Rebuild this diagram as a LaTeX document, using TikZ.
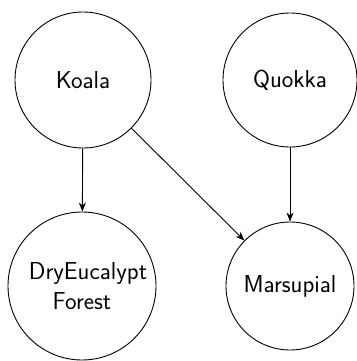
\documentclass[tikz,border=0pt]{standalone}
\usetikzlibrary{arrows.meta}
\begin{document}
\begin{tikzpicture}[x=1pt,y=-1pt,
  animal/.style={draw,circle,line width=0.9pt,inner sep=0pt,align=center,font=\sffamily\fontsize{24.5}{30}\selectfont},
  arr/.style={-{Stealth[length=9pt,width=7pt,inset=3pt]},line width=0.9pt}]
\useasboundingbox (0,0) rectangle (356,361);
\node[animal,minimum size=136pt] (koala) at (83,80) {Koala};
\node[animal,minimum size=134pt] (quokka) at (290,80) {Quokka};
\node[animal,minimum size=148pt] (dry) at (82,286) {\hspace*{12pt}DryEucalypt\\Forest};
\node[animal,minimum size=128pt] (mars) at (290,286) {Marsupial};
\draw[arr] (koala) -- (dry);
\draw[arr] (koala) -- (mars);
\draw[arr] (quokka) -- (mars);
\end{tikzpicture}
\end{document}
